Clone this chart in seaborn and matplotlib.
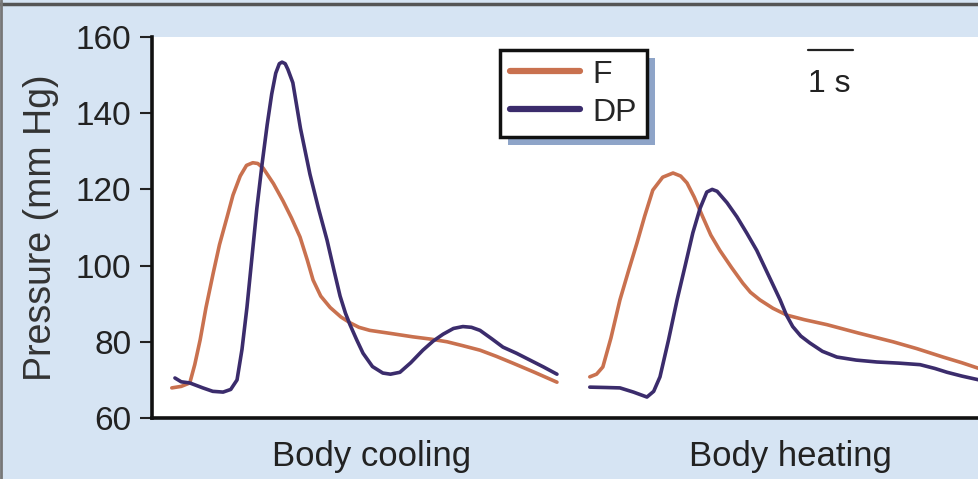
import numpy as np
import pandas as pd
import matplotlib
matplotlib.use("Agg")
import matplotlib.pyplot as plt
import seaborn as sns
from matplotlib.lines import Line2D
from matplotlib.patches import Rectangle

# ---- data (time in s, pressure in mm Hg) ----
cool_dp_t = [0.51, 0.65, 0.84, 1.13, 1.35, 1.58, 1.75, 1.89, 2.00, 2.11, 2.22, 2.33, 2.45, 2.56, 2.66, 2.75, 2.83,
             2.89, 2.96, 3.02, 3.13, 3.30, 3.51, 3.70, 3.89, 4.05, 4.18, 4.30, 4.40, 4.55, 4.69, 4.90, 5.13, 5.30,
             5.51, 5.75, 6.02, 6.25, 6.47, 6.70, 6.91, 7.10, 7.29, 7.55, 7.80, 8.10, 8.40, 8.70, 9.00]
cool_dp_p = [70.5, 69.5, 69.2, 67.9, 67.0, 66.8, 67.5, 70.0, 78.0, 89.0, 102.0, 115.0, 127.0, 137.0, 145.0, 150.5, 153.0,
             153.4, 153.0, 151.5, 148.0, 136.0, 124.0, 115.0, 106.7, 98.5, 92.0, 87.5, 84.5, 80.5, 77.0, 73.5, 71.8, 71.5,
             72.0, 74.5, 77.8, 80.2, 82.0, 83.5, 84.0, 83.8, 83.0, 80.8, 78.6, 77.0, 75.2, 73.4, 71.5]
cool_f_t = [0.44, 0.65, 0.84, 0.95, 1.07, 1.20, 1.36, 1.50, 1.67, 1.80, 1.96, 2.10, 2.24, 2.35, 2.47, 2.70, 2.91, 3.10,
            3.29, 3.45, 3.58, 3.75, 3.96, 4.20, 4.40, 4.60, 4.84, 5.30, 5.80, 6.20, 6.56, 6.90, 7.29, 7.65, 8.02, 8.50, 9.00]
cool_f_p = [67.9, 68.3, 69.2, 74.0, 80.5, 89.0, 98.0, 105.5, 112.8, 118.5, 123.5, 126.3, 127.0, 126.8, 125.6, 121.5, 117.0,
            112.5, 107.5, 101.5, 96.2, 92.0, 89.0, 86.5, 85.0, 83.8, 83.0, 82.2, 81.3, 80.7, 80.0, 79.0, 77.8, 76.2, 74.4,
            72.0, 69.4]
heat_f_t = [9.73, 9.88, 10.02, 10.20, 10.40, 10.60, 10.78, 10.95, 11.13, 11.35, 11.58, 11.75, 11.89, 12.05, 12.24, 12.42,
            12.62, 12.88, 13.13, 13.30, 13.51, 13.80, 14.11, 14.50, 15.00, 15.70, 16.47, 17.00, 17.58, 18.00, 18.38]
heat_f_p = [70.8, 71.5, 73.4, 81.0, 91.0, 99.0, 106.0, 113.0, 119.8, 123.2, 124.3, 123.5, 121.7, 118.0, 112.8, 108.0,
            104.0, 99.5, 95.4, 93.0, 91.0, 88.8, 87.0, 85.8, 84.5, 82.3, 80.0, 78.2, 76.0, 74.5, 73.0]
heat_dp_t = [9.73, 10.10, 10.40, 10.70, 11.00, 11.15, 11.29, 11.48, 11.67, 11.85, 12.02, 12.18, 12.33, 12.45, 12.56, 12.78,
             13.00, 13.22, 13.44, 13.70, 13.96, 14.10, 14.24, 14.42, 14.62, 14.90, 15.22, 15.65, 16.11, 16.60, 17.07,
             17.40, 17.67, 18.00, 18.38]
heat_dp_p = [68.1, 68.0, 67.9, 66.8, 65.5, 67.0, 70.8, 80.5, 91.0, 100.0, 108.6, 115.0, 119.3, 120.0, 119.5, 116.5,
             112.8, 108.5, 104.0, 97.5, 91.0, 87.0, 84.0, 81.5, 79.7, 77.5, 76.0, 75.2, 74.7, 74.4, 74.0, 73.0, 72.0,
             71.0, 70.0]

categories = ["Body cooling", "Body heating"]
cat_centers = [4.87, 14.2]
boundaries = [0.0, 9.44]
y_ticks = [60, 80, 100, 120, 140, 160]
series_names = ["F", "DP"]
colors = {"F": "#c9714f", "DP": "#3b2c6c"}

rows = []
for sig, ph, ts, ps in [("F", "cool", cool_f_t, cool_f_p), ("DP", "cool", cool_dp_t, cool_dp_p),
                        ("F", "heat", heat_f_t, heat_f_p), ("DP", "heat", heat_dp_t, heat_dp_p)]:
    for t, p in zip(ts, ps):
        rows.append({"t": t, "p": p, "signal": sig, "phase": ph})
df = pd.DataFrame(rows)

sns.set_theme(style="white")
plt.rcParams["font.family"] = ["Liberation Sans", "DejaVu Sans"]

bg = "#d6e4f3"
fig = plt.figure(figsize=(9.79, 4.79), dpi=100, facecolor=bg)
ax = fig.add_axes([152 / 979, 61 / 479, 1 - 152 / 979, (418 - 37) / 479])
ax.set_facecolor("white")

sns.lineplot(data=df, x="t", y="p", hue="signal", units="phase", estimator=None, sort=False,
             palette=colors, hue_order=series_names, linewidth=2.6, ax=ax, legend=False)
for ln in ax.lines:
    ln.set_solid_joinstyle("round")
    ln.set_solid_capstyle("round")

ax.set_xlim(0, 18.38)
ax.set_ylim(60, 160)
ax.set_yticks(y_ticks)
ax.set_yticklabels([str(v) for v in y_ticks], fontsize=24, color="#222222")
ax.set_xticks(boundaries)
ax.set_xticklabels(["", ""])
ax.set_xticks(cat_centers, minor=True)
ax.set_xticklabels(categories, minor=True, fontsize=25, color="#222222")
ax.tick_params(axis="x", which="major", direction="out", length=10, width=1.5, color="#222222")
ax.tick_params(axis="x", which="minor", length=0, pad=16)
ax.tick_params(axis="y", direction="out", length=9, width=1.5, color="#222222", pad=6, left=True)
ax.set_xlabel("")
ax.set_ylabel("Pressure (mm Hg)", fontsize=27, color="#333333", labelpad=12)

for s in ["top", "right"]:
    ax.spines[s].set_visible(False)
for s in ["left", "bottom"]:
    ax.spines[s].set_color("#111111")
    ax.spines[s].set_linewidth(2.6)

# scale bar
ax.plot([14.58, 15.58], [156.6, 156.6], color="#222222", lw=1.6)
ax.text(15.05, 147.6, "1 s", ha="center", va="center", fontsize=23, color="#222222")

handles = [Line2D([0], [0], color=colors[n], lw=4.5) for n in series_names]
leg = fig.legend(handles, series_names, loc="upper left",
                 bbox_to_anchor=(500 / 979, 1 - 50 / 479), bbox_transform=fig.transFigure, fontsize=23,
                 frameon=True, fancybox=False, borderaxespad=0, handlelength=2.2, handletextpad=0.4,
                 borderpad=0.3, labelspacing=0.25)
leg.get_frame().set_edgecolor("#111111")
leg.get_frame().set_linewidth(2.5)
leg.get_frame().set_facecolor("white")
leg.get_frame().set_alpha(1.0)
leg.set_zorder(5)

# shadow behind legend
fig.canvas.draw()
bb = leg.get_window_extent()
W, H = fig.bbox.width, fig.bbox.height
fig.add_artist(Rectangle(((bb.x0 + 8) / W, (bb.y0 - 8) / H), bb.width / W, bb.height / H,
                         transform=fig.transFigure, facecolor="#8ea4c8", edgecolor="none", zorder=4))

# outer frame (top and left)
fig.add_artist(Line2D([0, 1], [1 - 3.5 / 479] * 2, transform=fig.transFigure, color="#555555", lw=2.5))
fig.add_artist(Line2D([1.5 / 979] * 2, [0, 1], transform=fig.transFigure, color="#777777", lw=2.0))

fig.savefig("out.png", dpi=100, facecolor=bg)
